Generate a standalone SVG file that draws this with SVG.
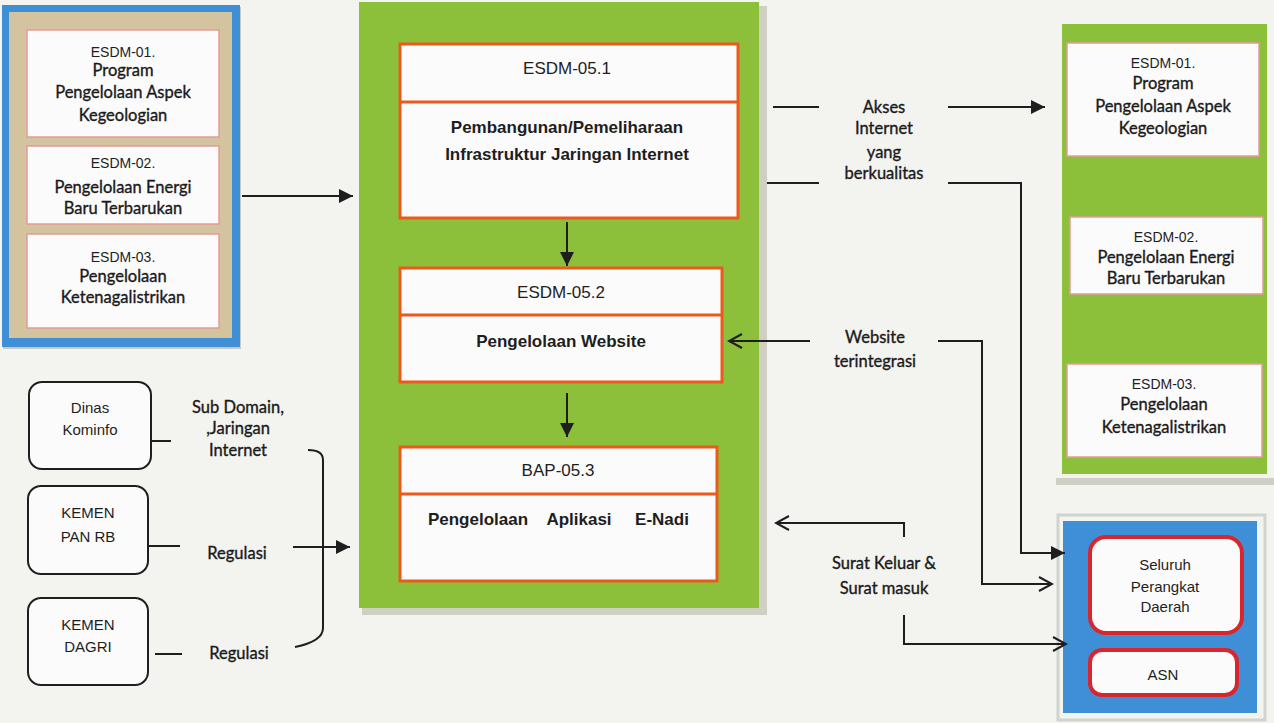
<svg xmlns="http://www.w3.org/2000/svg" width="1274" height="723" viewBox="0 0 1274 723">
<defs>
<style>
.cal{font-family:Lato,"Open Sans",sans-serif;font-size:16.5px;fill:#1a1a1a;stroke:#1a1a1a;stroke-width:0.35;text-anchor:middle}
.ari{font-family:"Liberation Sans",Arial,sans-serif;font-size:14px;fill:#1e1e1e;text-anchor:middle}
.ttl{font-family:"Liberation Sans",Arial,sans-serif;font-size:17px;fill:#1e1e1e;text-anchor:middle}
.bld{font-family:"Liberation Sans",Arial,sans-serif;font-size:17px;font-weight:bold;fill:#1e1e1e;text-anchor:middle}
.wb{fill:#fbfbfb;stroke:#e59a9a;stroke-width:1.5}
.ob{fill:#fbfbfb;stroke:#ea5a1c;stroke-width:3}
.rb{fill:#fbfbfb;stroke:#d9262e;stroke-width:4}
.kb{fill:#fbfbfb;stroke:#1e1e1e;stroke-width:2}
.ln{fill:none;stroke:#1e1e1e;stroke-width:2}
.green{fill:#8cc03a}
</style>
<marker id="af" markerUnits="userSpaceOnUse" markerWidth="15" markerHeight="14" refX="14" refY="7" orient="auto"><path d="M0,0 L14,7 L0,14 z" fill="#1e1e1e"/></marker>
<marker id="ao" markerUnits="userSpaceOnUse" markerWidth="16" markerHeight="18" refX="14" refY="8" orient="auto"><path d="M1,1 L14,8 L1,15" fill="none" stroke="#1e1e1e" stroke-width="2"/></marker>
</defs>
<rect width="1274" height="723" fill="#f3f3ef"/>

<g id="panel-left-top">
<rect x="3" y="7" width="238" height="342" fill="#c8c8c0"/>
<rect x="2" y="5" width="238" height="342" fill="#3f8fd7"/>
<rect x="9" y="12" width="223" height="326" fill="#d4c39f"/>
<rect class="wb" x="27" y="30" width="192" height="107"/>
<rect class="wb" x="27" y="146" width="192" height="78"/>
<rect class="wb" x="27" y="234" width="192" height="94"/>
<text class="ari" x="123" y="57">ESDM-01.</text>
<text class="cal" x="123" y="76">Program</text>
<text class="cal" x="123" y="98">Pengelolaan Aspek</text>
<text class="cal" x="123" y="121">Kegeologian</text>
<text class="ari" x="123" y="168">ESDM-02.</text>
<text class="cal" x="123" y="193">Pengelolaan Energi</text>
<text class="cal" x="123" y="214">Baru Terbarukan</text>
<text class="ari" x="123" y="262">ESDM-03.</text>
<text class="cal" x="123" y="282">Pengelolaan</text>
<text class="cal" x="123" y="303">Ketenagalistrikan</text>
</g>

<g id="panel-center">
<rect x="362" y="6" width="405" height="609" fill="#cfcfc4"/>
<rect class="green" x="359" y="2" width="400" height="606"/>
</g>

<g id="node-esdm-05-1">
<rect class="ob" x="400" y="44" width="338" height="174"/>
<line x1="400" y1="102" x2="738" y2="102" stroke="#ea5a1c" stroke-width="3"/>
<text class="ttl" x="567" y="74">ESDM-05.1</text>
<text class="bld" x="567" y="133">Pembangunan/Pemeliharaan</text>
<text class="bld" x="567" y="160">Infrastruktur Jaringan Internet</text>
</g>

<g id="node-esdm-05-2">
<rect class="ob" x="400" y="268" width="322" height="114"/>
<line x1="400" y1="315" x2="722" y2="315" stroke="#ea5a1c" stroke-width="3"/>
<text class="ttl" x="561" y="298">ESDM-05.2</text>
<text class="bld" x="561" y="347">Pengelolaan Website</text>
</g>

<g id="node-bap-05-3">
<rect class="ob" x="400" y="447" width="317" height="134"/>
<line x1="400" y1="494" x2="717" y2="494" stroke="#ea5a1c" stroke-width="3"/>
<text class="ttl" x="558" y="476">BAP-05.3</text>
<text class="bld" x="478" y="525">Pengelolaan</text>
<text class="bld" x="579" y="525">Aplikasi</text>
<text class="bld" x="662" y="525">E-Nadi</text>
</g>

<g id="panel-right">
<rect x="1056" y="478" width="218" height="7" fill="#cfcfc4"/>
<rect class="green" x="1062" y="24" width="205" height="450"/>
<rect class="wb" x="1067" y="43" width="192" height="113"/>
<rect class="wb" x="1070" y="217" width="193" height="77"/>
<rect class="wb" x="1067" y="364" width="195" height="93"/>
<text class="ari" x="1163" y="68">ESDM-01.</text>
<text class="cal" x="1163" y="89">Program</text>
<text class="cal" x="1163" y="112">Pengelolaan Aspek</text>
<text class="cal" x="1163" y="134">Kegeologian</text>
<text class="ari" x="1166" y="242">ESDM-02.</text>
<text class="cal" x="1166" y="263">Pengelolaan Energi</text>
<text class="cal" x="1166" y="284">Baru Terbarukan</text>
<text class="ari" x="1164" y="389">ESDM-03.</text>
<text class="cal" x="1164" y="410">Pengelolaan</text>
<text class="cal" x="1164" y="433">Ketenagalistrikan</text>
</g>

<g id="panel-pd">
<rect x="1058" y="515" width="207" height="205" fill="none" stroke="#cfd4cf" stroke-width="3"/>
<rect x="1063" y="521" width="194" height="192" fill="#3f8fd7"/>
<rect class="rb" x="1090" y="537" width="152" height="96" rx="16"/>
<rect class="rb" x="1090" y="650" width="147" height="45" rx="12"/>
<text class="ari" style="font-size:15px" x="1165" y="570">Seluruh</text>
<text class="ari" style="font-size:15px" x="1165" y="592">Perangkat</text>
<text class="ari" style="font-size:15px" x="1165" y="612">Daerah</text>
<text class="ari" style="font-size:15px" x="1163" y="680">ASN</text>
</g>

<g id="node-kominfo">
<rect class="kb" x="29" y="382" width="122" height="87" rx="13"/>
<text class="ari" style="font-size:15px" x="90" y="413">Dinas</text>
<text class="ari" style="font-size:15px" x="90" y="435">Kominfo</text>
</g>
<g id="node-panrb">
<rect class="kb" x="28" y="486" width="120" height="88" rx="13"/>
<text class="ari" style="font-size:15px" x="88" y="518">KEMEN</text>
<text class="ari" style="font-size:15px" x="88" y="542">PAN RB</text>
</g>
<g id="node-dagri">
<rect class="kb" x="28" y="598" width="120" height="87" rx="13"/>
<text class="ari" style="font-size:15px" x="88" y="630">KEMEN</text>
<text class="ari" style="font-size:15px" x="88" y="652">DAGRI</text>
</g>

<g id="connectors">
<line class="ln" x1="242" y1="196" x2="353" y2="196" marker-end="url(#af)"/>
<line class="ln" x1="567" y1="222" x2="567" y2="266" marker-end="url(#af)"/>
<line class="ln" x1="567" y1="393" x2="567" y2="437" marker-end="url(#af)"/>

<line class="ln" x1="773" y1="107" x2="819" y2="107"/>
<line class="ln" x1="948" y1="107" x2="1045" y2="107" marker-end="url(#af)"/>
<line class="ln" x1="767" y1="183" x2="819" y2="183"/>
<polyline class="ln" points="948,183 1021,183 1021,553 1065,553" marker-end="url(#af)"/>

<line class="ln" x1="810" y1="341" x2="729" y2="341" marker-end="url(#ao)"/>
<polyline class="ln" points="938,341 982,341 982,584 1052,584" marker-end="url(#ao)"/>

<polyline class="ln" points="904,537 904,523 776,523" marker-end="url(#ao)"/>
<polyline class="ln" points="904,615 904,644 1066,644" marker-end="url(#ao)"/>

<line class="ln" x1="151" y1="441" x2="171" y2="441"/>
<line class="ln" x1="148" y1="546" x2="180" y2="546"/>
<line class="ln" x1="155" y1="654" x2="182" y2="654"/>
<path class="ln" d="M308,450 C318,450 323,453 323,460 L323,628 C323,638 310,644 295,647"/>
<line class="ln" x1="293" y1="547" x2="350" y2="547" marker-end="url(#af)"/>

<text class="cal" x="884" y="113">Akses</text>
<text class="cal" x="884" y="134">Internet</text>
<text class="cal" x="884" y="158">yang</text>
<text class="cal" x="884" y="179">berkualitas</text>
<text class="cal" x="875" y="343">Website</text>
<text class="cal" x="875" y="367">terintegrasi</text>
<text class="cal" x="884" y="569">Surat Keluar &amp;</text>
<text class="cal" x="884" y="594">Surat masuk</text>
<text class="cal" x="238" y="413">Sub Domain,</text>
<text class="cal" x="238" y="434">,Jaringan</text>
<text class="cal" x="238" y="456">Internet</text>
<text class="cal" x="237" y="559">Regulasi</text>
<text class="cal" x="239" y="659">Regulasi</text>
</g>
</svg>
